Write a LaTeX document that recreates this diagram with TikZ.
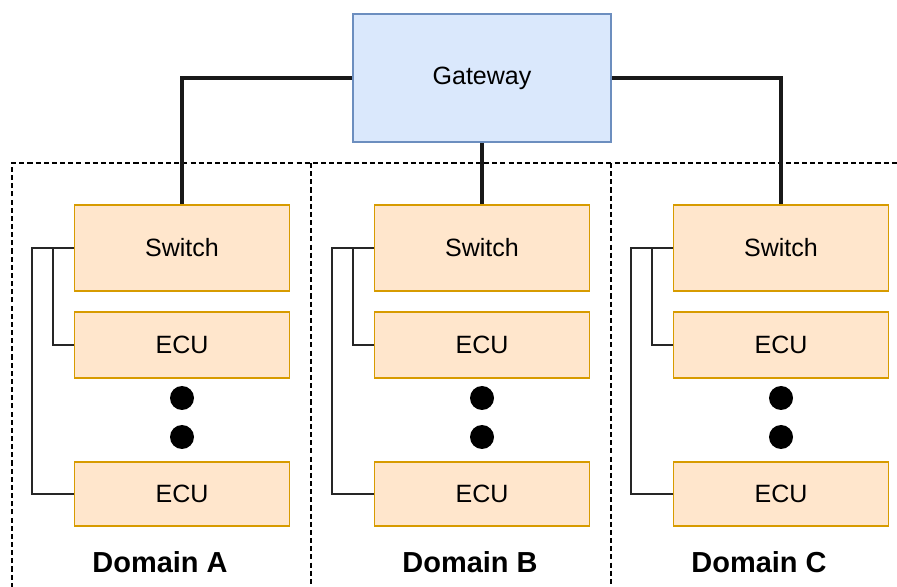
\documentclass[tikz,border=0pt]{standalone}
\usepackage{fontspec}
\setmainfont{Liberation Sans}
\usetikzlibrary{positioning,calc}
\definecolor{gwfill}{HTML}{DAE8FC}
\definecolor{gwline}{HTML}{6C8EBF}
\definecolor{unitfill}{HTML}{FFE6CC}
\definecolor{unitline}{HTML}{D79B00}
\tikzset{gwbox/.style={draw=gwline,fill=gwfill,line width=1.1pt,minimum width=6.45cm,minimum height=3.2cm,
 font=\fontsize{17.8}{20}\selectfont,inner sep=0pt},
 unitbox/.style={draw=unitline,fill=unitfill,line width=1.1pt,minimum width=5.375cm,
 font=\fontsize{17.8}{20}\selectfont,inner sep=0pt},
 gwlink/.style={draw=black!90,line width=2.6pt},
 eculink/.style={draw=black!85,line width=1.1pt},
 domainline/.style={draw=black,line width=1pt,dash pattern=on 3.6pt off 2.2pt},
 dotnode/.style={circle,fill=black,minimum size=0.6cm,inner sep=0pt},
 domlabel/.style={font=\fontsize{20.6}{24}\selectfont\bfseries}}
\begin{document}
\begin{tikzpicture}[x=1cm,y=1cm]
\useasboundingbox (0,0) rectangle (22.425,-14.675);
% domain borders
\draw[domainline] (0.3,-14.9) |- (22.6,-4.075);
\draw[domainline] (7.775,-4.075) -- (7.775,-14.9);
\draw[domainline] (15.275,-4.075) -- (15.275,-14.9);
\node[gwbox] (gw) at (12.05,-1.95) {Gateway};
\node[unitbox,minimum height=2.15cm] (swa) at (4.55,-6.2) {Switch};
\node[unitbox,minimum height=2.15cm] (swb) at (12.05,-6.2) {Switch};
\node[unitbox,minimum height=2.15cm] (swc) at (19.525,-6.2) {Switch};
\node[unitbox,minimum height=1.65cm] (ecua1) at (4.55,-8.625) {ECU};
\node[unitbox,minimum height=1.65cm] (ecub1) at (12.05,-8.625) {ECU};
\node[unitbox,minimum height=1.65cm] (ecuc1) at (19.525,-8.625) {ECU};
\node[unitbox,minimum height=1.6cm] (ecua2) at (4.55,-12.35) {ECU};
\node[unitbox,minimum height=1.6cm] (ecub2) at (12.05,-12.35) {ECU};
\node[unitbox,minimum height=1.6cm] (ecuc2) at (19.525,-12.35) {ECU};
\node[dotnode] (dota1) at (4.55,-9.95) {};\node[dotnode] (dota2) at (4.55,-10.925) {};
\node[dotnode] (dotb1) at (12.05,-9.95) {};\node[dotnode] (dotb2) at (12.05,-10.925) {};
\node[dotnode] (dotc1) at (19.525,-9.95) {};\node[dotnode] (dotc2) at (19.525,-10.925) {};
\node[domlabel] (laba) at (4.0,-14.05) {Domain A};
\node[domlabel] (labb) at (11.75,-14.05) {Domain B};
\node[domlabel] (labc) at (18.975,-14.05) {Domain C};
\draw[gwlink] (gw.west) -| (swa.north);\draw[gwlink] (gw.south) -- (swb.north);\draw[gwlink] (gw.east) -| (swc.north);
\draw[eculink] (swa.west) -- ++(-0.525,0) |- (ecua1.west);\draw[eculink] (swa.west) -- ++(-1.05,0) |- (ecua2.west);
\draw[eculink] (swb.west) -- ++(-0.525,0) |- (ecub1.west);\draw[eculink] (swb.west) -- ++(-1.05,0) |- (ecub2.west);
\draw[eculink] (swc.west) -- ++(-0.525,0) |- (ecuc1.west);\draw[eculink] (swc.west) -- ++(-1.05,0) |- (ecuc2.west);
\end{tikzpicture}
\end{document}
